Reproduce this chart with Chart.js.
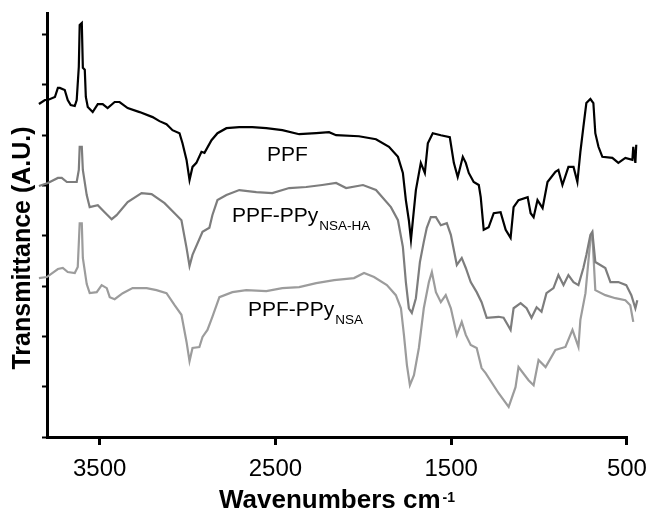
<!DOCTYPE html>
<html>
<head>
<meta charset="utf-8">
<script src="https://cdn.jsdelivr.net/npm/chart.js@4.4.1/dist/chart.umd.min.js"></script>
<style>
html,body{margin:0;padding:0;background:#fff;}
#wrap{width:657px;height:521px;}
</style>
</head>
<body>
<div id="wrap"><canvas id="c" width="657" height="521"></canvas></div>
<script>
// ---- data (wavenumber cm-1, transmittance A.U.) ----
const ppfWavenumber = [3846,3812,3795,3755,3738,3727,3699,3682,3665,3642,3631,3619,3614,3602,3596,3585,3579,3568,3540,3511,3483,3455,3415,3387,3341,3273,3199,3160,3120,3086,3046,3029,3006,2989,2972,2950,2921,2904,2864,2830,2779,2706,2632,2552,2461,2365,2268,2195,2155,2025,1928,1854,1803,1775,1758,1741,1729,1718,1701,1673,1650,1633,1605,1559,1508,1485,1463,1457,1434,1417,1400,1372,1343,1332,1315,1287,1258,1219,1190,1162,1145,1117,1065,1048,1031,1009,980,952,907,890,867,833,804,782,765,748,731,708,691,680,662,640,583,549,509,469,464,452,447];
const ppfTransmittance = [6.62,6.70,6.70,6.76,6.94,6.94,6.90,6.70,6.60,6.58,6.70,7.36,8.19,8.23,7.34,7.30,6.76,6.56,6.46,6.62,6.62,6.54,6.66,6.66,6.54,6.46,6.36,6.28,6.22,6.10,6.04,5.84,5.51,5.11,5.37,5.45,5.67,5.65,5.90,6.04,6.14,6.16,6.16,6.14,6.10,6.02,6.04,6.06,6.00,5.98,5.92,5.77,5.57,5.25,4.71,4.31,3.92,4.31,4.91,5.45,5.25,5.84,6.04,6.00,5.96,5.45,5.17,5.25,5.57,5.45,5.25,5.07,5.01,4.77,4.12,4.17,4.45,4.47,4.12,3.96,4.57,4.71,4.77,4.45,4.37,4.71,4.55,5.07,5.27,5.31,5.01,5.37,5.37,5.07,5.67,6.16,6.64,6.72,6.64,6.04,5.77,5.57,5.55,5.45,5.55,5.51,5.77,5.45,5.81];

const nsaHaWavenumber = [3846,3795,3738,3716,3687,3631,3619,3614,3602,3596,3574,3557,3511,3472,3432,3404,3341,3262,3205,3131,3074,3035,3006,2989,2972,2915,2876,2859,2830,2779,2706,2609,2518,2422,2325,2234,2155,2098,2002,1928,1843,1803,1775,1758,1741,1724,1701,1678,1656,1639,1616,1587,1559,1525,1502,1468,1440,1417,1389,1355,1327,1298,1230,1202,1162,1145,1105,1071,1043,1014,986,958,918,890,861,833,804,776,748,731,708,697,680,623,594,549,504,475,452,441];
const nsaHaTransmittance = [4.99,5.05,5.15,5.15,5.07,5.07,5.31,5.77,5.77,5.31,4.81,4.57,4.61,4.47,4.33,4.41,4.67,4.85,4.83,4.65,4.45,4.31,3.76,3.40,3.62,4.08,4.16,4.41,4.71,4.81,4.91,4.87,4.85,4.95,4.97,5.01,5.05,4.95,5.01,4.91,4.57,4.31,3.78,3.08,2.56,2.47,2.76,3.48,3.88,4.16,4.37,4.37,4.21,4.25,4.02,3.42,3.56,3.36,3.08,2.88,2.68,2.37,2.39,2.37,2.13,2.56,2.66,2.56,2.37,2.58,2.49,2.86,2.96,3.22,3.02,3.22,3.08,3.02,3.36,3.62,4.02,4.08,3.48,3.36,3.08,3.08,3.02,2.82,2.56,2.72];

const nsaWavenumber = [3846,3801,3738,3710,3682,3642,3625,3614,3602,3596,3574,3557,3517,3489,3460,3443,3415,3369,3313,3233,3177,3120,3074,3035,3006,2989,2972,2933,2915,2887,2859,2819,2745,2666,2552,2461,2365,2268,2166,2053,1996,1939,1866,1815,1786,1769,1752,1735,1712,1684,1656,1627,1610,1587,1559,1531,1502,1468,1440,1417,1389,1355,1327,1304,1230,1173,1134,1117,1060,1031,1003,963,907,850,810,776,765,736,708,697,680,623,566,509,481,464];
const nsaTransmittance = [3.16,3.18,3.34,3.36,3.28,3.26,3.38,4.25,4.25,3.56,3.04,2.86,2.88,3.02,2.96,2.78,2.74,2.86,2.96,2.96,2.92,2.86,2.62,2.43,1.89,1.51,1.77,1.79,1.99,2.13,2.39,2.78,2.88,2.92,2.90,2.96,2.98,3.06,3.12,3.16,3.26,3.18,3.02,2.82,2.56,2.03,1.43,1.03,1.23,1.77,2.56,3.08,3.28,2.88,2.68,2.82,2.56,2.03,2.29,2.03,1.83,1.77,1.37,1.27,0.87,0.60,0.99,1.39,1.13,1.03,1.53,1.39,1.73,1.79,2.13,1.79,2.33,2.86,3.92,4.02,2.92,2.82,2.76,2.72,2.62,2.29];

const xTickValues = [3500, 2500, 1500, 500];
const yTickValues = [0,1,2,3,4,5,6,7,8];

const FONT = "'Liberation Sans', Arial, Helvetica, sans-serif";

function pts(xs, ys){ return xs.map((x,i)=>({x:x, y:ys[i]})); }

const labelPlugin = {
  id: 'curveLabels',
  afterDatasetsDraw(chart){
    const ctx = chart.ctx;
    ctx.save();
    ctx.fillStyle = '#000';
    ctx.textAlign = 'left';
    ctx.textBaseline = 'alphabetic';
    function lab(main, sub, x, y){
      ctx.font = "21px " + FONT;
      ctx.fillText(main, x, y);
      if (sub){
        const w = ctx.measureText(main).width;
        ctx.font = "13.5px " + FONT;
        ctx.fillText(sub, x + w + 1, y + 8);
      }
    }
    lab('PPF', '', 267, 161);
    lab('PPF-PPy', 'NSA-HA', 232, 222);
    lab('PPF-PPy', 'NSA', 248, 316);
    // x axis title with superscript
    ctx.font = "bold 26px " + FONT;
    const t = 'Wavenumbers cm';
    const tw = ctx.measureText(t).width;
    ctx.font = "bold 14px " + FONT;
    const sw = ctx.measureText('-1').width;
    const x0 = 337 - (tw + sw + 2)/2;
    ctx.font = "bold 26px " + FONT;
    ctx.fillText(t, x0, 508);
    ctx.font = "bold 14px " + FONT;
    ctx.fillText('-1', x0 + tw + 2, 502);
    // y axis title
    ctx.save();
    ctx.translate(30, 248);
    ctx.rotate(-Math.PI/2);
    ctx.textAlign = 'center';
    ctx.font = "bold 25px " + FONT;
    ctx.fillText('Transmittance (A.U.)', 0, 0);
    ctx.restore();
    ctx.restore();
  }
};

new Chart(document.getElementById('c'), {
  type: 'line',
  data: {
    datasets: [
      {label:'PPF', data: pts(ppfWavenumber, ppfTransmittance), borderColor:'#000000', borderWidth:2.2, pointRadius:0, tension:0, clip:false},
      {label:'PPF-PPy NSA-HA', data: pts(nsaHaWavenumber, nsaHaTransmittance), borderColor:'#7d7d7d', borderWidth:2.2, pointRadius:0, tension:0, clip:false},
      {label:'PPF-PPy NSA', data: pts(nsaWavenumber, nsaTransmittance), borderColor:'#9c9c9c', borderWidth:2.2, pointRadius:0, tension:0, clip:false}
    ]
  },
  options: {
    responsive: false,
    animation: false,
    devicePixelRatio: 1,
    layout: { padding: { left: 0, right: 22.9, top: 13, bottom: 0 } },
    plugins: { legend: { display: false }, tooltip: { enabled: false } },
    scales: {
      x: {
        type: 'linear',
        reverse: true,
        min: 495,
        max: 3800,
        afterBuildTicks(scale){ scale.ticks = xTickValues.map(v => ({value: v})); },
        afterFit(scale){ scale.height = 84; },
        ticks: { color:'#000', font:{ family: FONT, size: 24 }, padding: 10, maxRotation: 0, autoSkip: false, callback: v => String(v) },
        grid: { drawOnChartArea: false, drawTicks: true, tickLength: 8, tickWidth: 3, tickColor: '#000' },
        border: { display: true, color: '#000', width: 3 }
      },
      y: {
        min: 0,
        max: 8.43,
        afterBuildTicks(scale){ scale.ticks = yTickValues.map(v => ({value: v})); },
        afterFit(scale){ scale.width = 47; },
        ticks: { display: false },
        grid: { drawOnChartArea: false, drawTicks: true, tickLength: 5, tickWidth: 2, tickColor: '#000' },
        border: { display: true, color: '#000', width: 3 }
      }
    }
  },
  plugins: [labelPlugin]
});
</script>
</body>
</html>
